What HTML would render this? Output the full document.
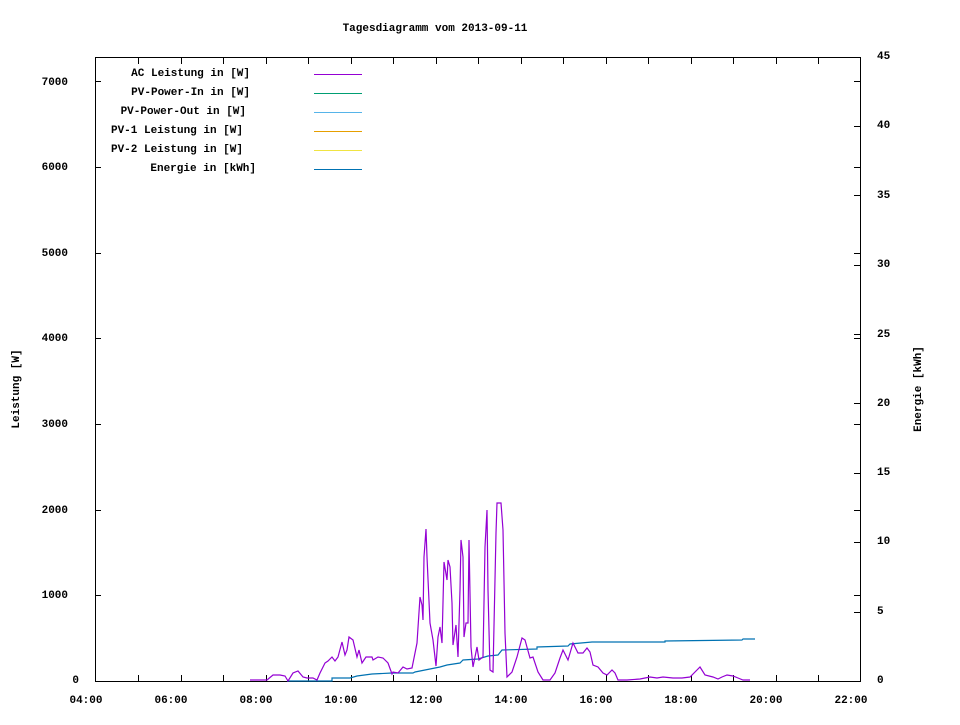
<!DOCTYPE html>
<html><head><meta charset="utf-8"><style>
html,body{margin:0;padding:0;background:#fff;}
svg text{font-family:"Liberation Mono","DejaVu Sans Mono",monospace;font-size:11px;font-weight:bold;fill:#000;}
</style></head><body>
<svg width="960" height="720" xmlns="http://www.w3.org/2000/svg">
<rect width="960" height="720" fill="#fff"/>
<text x="435" y="31" text-anchor="middle">Tagesdiagramm vom 2013-09-11</text>
<g stroke="#000" stroke-width="1" fill="none">
<rect x="95.5" y="57.5" width="765" height="624"/>
<path d="M138.5 681v-6M181.5 681v-6M223.5 681v-6M266.5 681v-6M308.5 681v-6M351.5 681v-6M393.5 681v-6M436.5 681v-6M478.5 681v-6M521.5 681v-6M563.5 681v-6M606.5 681v-6M648.5 681v-6M691.5 681v-6M733.5 681v-6M776.5 681v-6M818.5 681v-6
M138.5 58v6M181.5 58v6M223.5 58v6M266.5 58v6M308.5 58v6M351.5 58v6M393.5 58v6M436.5 58v6M478.5 58v6M521.5 58v6M563.5 58v6M606.5 58v6M648.5 58v6M691.5 58v6M733.5 58v6M776.5 58v6M818.5 58v6
M95 595.5h6M95 510.5h6M95 424.5h6M95 338.5h6M95 253.5h6M95 167.5h6M95 81.5h6
M860 595.5h-6M860 510.5h-6M860 424.5h-6M860 338.5h-6M860 253.5h-6M860 167.5h-6M860 81.5h-6
M860 612.5h-6M860 542.5h-6M860 473.5h-6M860 403.5h-6M860 334.5h-6M860 265.5h-6M860 195.5h-6M860 126.5h-6"/>
</g>
<g text-anchor="end">
<text x="79" y="683">0</text><text x="68" y="598">1000</text><text x="68" y="513">2000</text><text x="68" y="427">3000</text><text x="68" y="341">4000</text><text x="68" y="256">5000</text><text x="68" y="170">6000</text><text x="68" y="85">7000</text>
</g>
<g text-anchor="start">
<text x="877" y="683">0</text><text x="877" y="614">5</text><text x="877" y="544">10</text><text x="877" y="475">15</text><text x="877" y="406">20</text><text x="877" y="337">25</text><text x="877" y="267">30</text><text x="877" y="198">35</text><text x="877" y="128">40</text><text x="877" y="59">45</text>
</g>
<g text-anchor="middle">
<text x="86" y="703">04:00</text><text x="171" y="703">06:00</text><text x="256" y="703">08:00</text><text x="341" y="703">10:00</text><text x="426" y="703">12:00</text><text x="511" y="703">14:00</text><text x="596" y="703">16:00</text><text x="681" y="703">18:00</text><text x="766" y="703">20:00</text><text x="851" y="703">22:00</text>
</g>
<text transform="translate(19,389) rotate(-90)" text-anchor="middle">Leistung [W]</text>
<text transform="translate(921,389) rotate(-90)" text-anchor="middle">Energie [kWh]</text>
<g text-anchor="end">
<text x="250" y="76">AC Leistung in [W]</text>
<text x="250" y="95">PV-Power-In in [W]</text>
<text x="246" y="114">PV-Power-Out in [W]</text>
<text x="243" y="133">PV-1 Leistung in [W]</text>
<text x="243" y="152">PV-2 Leistung in [W]</text>
<text x="256" y="171">Energie in [kWh]</text>
</g>
<g stroke-width="1">
<path d="M314 74.5h48" stroke="#9400d3"/>
<path d="M314 93.5h48" stroke="#009e73"/>
<path d="M314 112.5h48" stroke="#56b4e9"/>
<path d="M314 131.5h48" stroke="#e69f00"/>
<path d="M314 150.5h48" stroke="#f0e442"/>
<path d="M314 169.5h48" stroke="#0072b2"/>
</g>
<polyline fill="none" stroke="#0072b2" stroke-width="1.2" points="287,681 332,681 332,678 350,678 357,676 372,674 392,673 413,673 415,672 430,669 440,667 447,665 460,663 463,660 478,659 488,656 498,655 502,650 537,649 537,647 568,646 570,644 592,642 665,642 665,641 742,640 743,639 755,639"/>
<polyline fill="none" stroke="#9400d3" stroke-width="1.2" points="250,680 267,680 273,675 280,675 285,676 288,681 293,673 298,671 303,677 307,678 313,678 317,680 320,673 325,663 328,661 332,657 335,661 338,657 342,642 345,655 347,650 349,637 353,640 357,657 359,650 362,663 366,657 372,657 373,660 378,657 383,658 388,663 392,674 393,672 398,673 403,667 407,669 412,668 417,643 420,597 422,605 423,620 424,557 426,529 427,557 430,623 433,640 436,666 438,637 440,627 442,643 444,562 447,580 448,560 450,567 452,603 453,645 456,625 458,657 460,590 461,540 463,557 464,637 466,623 468,623 469,540 471,647 473,667 477,647 479,660 483,657 485,547 487,510 488,590 490,670 493,672 496,533 497,503 501,503 503,530 505,633 507,677 512,672 517,657 522,638 525,640 530,658 533,657 538,672 543,680 550,680 555,673 560,658 563,650 568,660 573,643 578,653 583,653 587,648 590,652 593,665 598,667 603,673 607,675 612,670 615,673 618,680 627,680 640,679 650,677 657,678 663,677 673,678 682,678 690,677 695,672 700,667 705,675 713,677 718,679 722,677 727,675 733,676 738,678 743,680 750,680"/>
</svg>
</body></html>
